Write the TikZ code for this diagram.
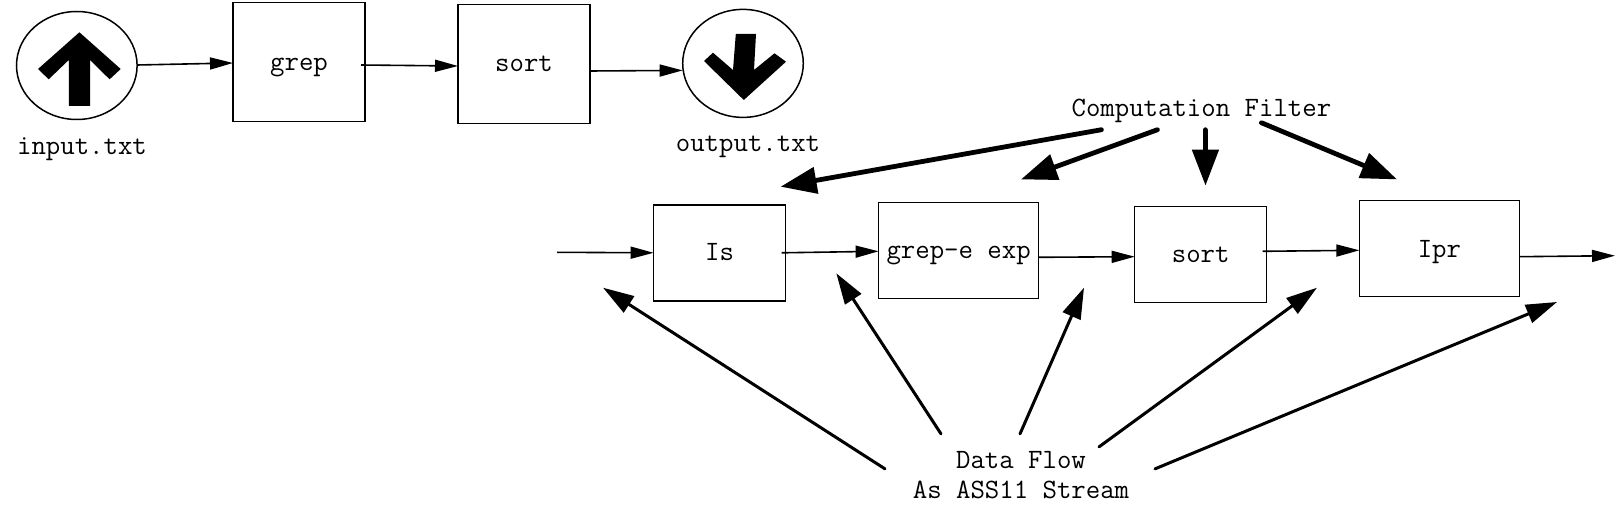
\documentclass[tikz,border=0pt]{standalone}
\usepackage{tikz}
\usetikzlibrary{arrows.meta,shapes.geometric}

\begin{document}
\begin{tikzpicture}[x=0.5pt,y=-0.5pt,>=latex,font=\fontsize{14pt}{15pt}\selectfont\ttfamily]
    \tikzstyle{file}=[draw, ellipse, line width=0.75pt, minimum width=60.3pt, minimum height=54pt, inner sep=0pt, outer sep=0pt]
    \tikzstyle{tool}=[draw, line width=0.75pt, minimum width=66pt, minimum height=48pt, inner sep=0pt, outer sep=0pt, text depth=2pt]
    \tikzstyle{widetool}=[tool, minimum width=80pt]
    \tikzstyle{label}=[inner sep=0pt, minimum height=11pt]
    \tikzstyle{flow}=[-{Triangle[length=11.5pt,width=6pt]}, line width=0.8pt]
    \tikzstyle{filterline}=[-{Triangle[length=18pt,width=13pt]}, line width=2.4pt, line cap=round]
    \tikzstyle{dataline}=[-{Triangle[length=15.5pt,width=9.5pt]}, line width=1.5pt, line cap=round]
    \useasboundingbox (0,0) rectangle (1617,518);

    % Top pipeline
    \node[file] (input) at (76.8,65.5) {};
    \node[tool, minimum height=59.5pt, text height=11pt] (grepA) at (299,62) {grep};
    \node[tool, minimum height=59.5pt, text height=10pt] (sortA) at (524,64) {sort};
    \node[file] (output) at (743,63.4) {};
    \node[label] (inputlabel) at (82,149) {input.txt};
    \node[label] (outputlabel) at (748,146.5) {output.txt};

    % Block arrows in the file symbols
    \fill (79.4,32.3) -- (120.7,69) -- (109.6,79.3) -- (90,60) -- (90,106) -- (68.8,106)
        -- (68.8,60) -- (48.7,79.3) -- (38,69) -- cycle;
    \fill (743.8,100) -- (786,61.7) -- (774.5,53.3) -- (754,70) -- (756,34) -- (735.8,34)
        -- (733,70) -- (713,52.7) -- (704,61) -- cycle;

    % Lower pipeline
    \node[tool, text height=10pt] (ls) at (719.6,252.8) {Is};
    \node[widetool, text height=10.2pt] (grepB) at (958.6,250.3) {grep-e exp};
    \node[tool, text height=10.4pt] (sortB) at (1200.7,254.3) {sort};
    \node[widetool, text height=11pt] (lpr) at (1439.4,248.7) {Ipr};
    \node[label] (filter) at (1201.4,110.5) {Computation Filter};
    \node[label, align=center, minimum height=0pt] (data) at (1021,475) {Data Flow\\As ASS11 Stream};

    % Free ends
    \coordinate (linein) at (557,252.3);
    \coordinate (lineout) at (1615,255.7);
    \coordinate (tipls) at (780.6,186.7);
    \coordinate (tipgrep) at (1021,179.4);
    \coordinate (tipsort) at (1205.5,185.6);
    \coordinate (tiplpr) at (1397,179.4);
    \coordinate (pointa) at (603,287.7);
    \coordinate (pointb) at (836.3,273.3);
    \coordinate (pointc) at (1084,287.7);
    \coordinate (pointd) at (1317,287.7);
    \coordinate (pointe) at (1557,302);

    % Top flow
    \draw[flow] ([yshift=0.25pt]input.east) -- ([yshift=-0.5pt]grepA.west);
    \draw[flow] ([xshift=-2pt,yshift=-1.5pt]grepA.east) -- ([yshift=-1pt]sortA.west);
    \draw[flow] ([yshift=-3.5pt]sortA.east) -- ([yshift=-3.5pt]output.west);

    % Lower flow
    \draw[flow] (linein) -- (ls.west);
    \draw[flow] ([xshift=-2pt]ls.east) -- ([yshift=-0.5pt]grepB.west);
    \draw[flow] ([yshift=-3.5pt]grepB.east) -- ([yshift=-1.2pt]sortB.west);
    \draw[flow] ([xshift=-2pt,yshift=1.5pt]sortB.east) -- ([yshift=-0.8pt]lpr.west);
    \draw[flow] ([yshift=-4pt]lpr.east) -- (lineout);

    % Computation filter arrows
    \draw[filterline] ([xshift=-50pt,yshift=-3.5pt]filter.south) -- (tipls);
    \draw[filterline] ([xshift=-22pt,yshift=-3.5pt]filter.south) -- (tipgrep);
    \draw[filterline] ([xshift=2pt,yshift=-3.5pt]filter.south) -- (tipsort);
    \draw[filterline] ([xshift=30pt,yshift=0pt]filter.south) -- (tiplpr);

    % Data flow arrows
    \draw[dataline] ([xshift=-68pt,yshift=-9pt]data.north) -- (pointa);
    \draw[dataline] ([xshift=-40pt,yshift=8.5pt]data.north) -- (pointb);
    \draw[dataline] ([xshift=-0.5pt,yshift=8.5pt]data.north) -- (pointc);
    \draw[dataline] ([xshift=39pt,yshift=2pt]data.north) -- (pointd);
    \draw[dataline] ([xshift=67pt,yshift=-9pt]data.north) -- (pointe);
\end{tikzpicture}
\end{document}
